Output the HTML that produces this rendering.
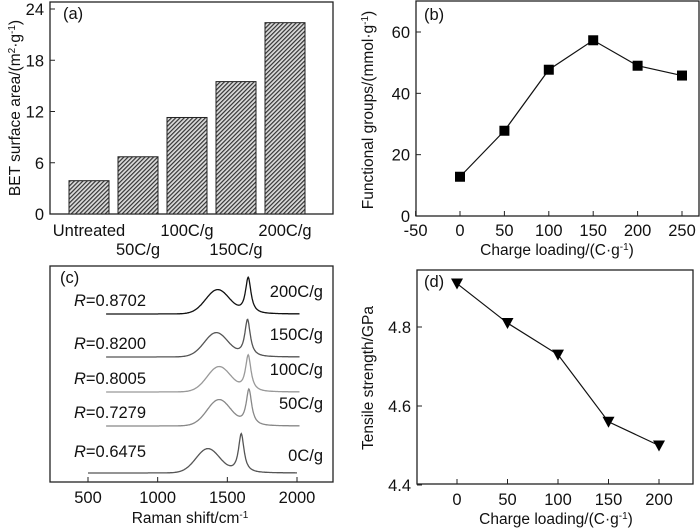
<!DOCTYPE html>
<html><head><meta charset="utf-8"><style>
body{margin:0;background:#fff}
svg{display:block;font-family:"Liberation Sans",Arial,sans-serif}
</style></head><body>
<svg id="c" width="700" height="529" viewBox="0 0 700 529">
<defs><pattern id="hatch" width="3" height="3" patternUnits="userSpaceOnUse" patternTransform="rotate(-45)">
<rect width="3" height="3" fill="#dcdcdc"/><rect width="3" height="1.2" fill="#333"/></pattern></defs>
</svg>
<script>
// Panel (a)
const aCats=["Untreated","50C/g","100C/g","150C/g","200C/g"];
const aVals=[3.9,6.7,11.3,15.5,22.4];
const aTicks=[0,6,12,18,24];
// Panel (b)
const bX=[0,50,100,150,200,250];
const bY=[12.8,27.8,47.7,57.3,49.0,45.8];
const bXTicks=[-50,0,50,100,150,200,250];
const bYTicks=[0,20,40,60];
// Panel (c)
const cLabels=["200C/g","150C/g","100C/g","50C/g","0C/g"];
const cR=["0.8702","0.8200","0.8005","0.7279","0.6475"];
const cOffset=[4,3,2,1,0];
const cDCenter=[1430,1420,1440,1440,1360];
const cDHeight=[24,24,25,26,24];
const cGCenter=[1650,1645,1650,1655,1600];
const cGHeight=[36,37,36,36,39];
const cStart=[630,630,630,630,500];
const cEnd=[2020,2020,2020,2020,2000];
const cXTicks=[500,1000,1500,2000];
// Panel (d)
const dX=[0,50,100,150,200];
const dY=[4.91,4.81,4.73,4.56,4.50];
const dXTicks=[0,50,100,150,200];
const dYTicks=[4.4,4.6,4.8];

const svg=document.getElementById('c');
const NS="http://www.w3.org/2000/svg";
function el(t,a,txt){const e=document.createElementNS(NS,t);for(const k in a)e.setAttribute(k,a[k]);if(txt!==undefined)e.textContent=txt;svg.appendChild(e);return e;}
function lin(d0,d1,r0,r1){return v=>r0+(v-d0)*(r1-r0)/(d1-d0);}
function frame(x0,y0,x1,y1,name){const r=el('rect',{x:x0,y:y0,width:x1-x0,height:y1-y0,fill:'none',stroke:'#222','stroke-width':1.3});
}
function txt(x,y,s,name,opts){const t=el('text',Object.assign({x:x,y:y,'font-size':16.5,fill:'#111','text-anchor':'middle'},opts||{}),s);
return t;}

// ---- (a)
{const x0=50,x1=333,y0=2,y1=214;const Y=lin(0,24,214,9);
frame(x0,y0,x1,y1,'panel-a-frame');
aTicks.forEach(v=>{const y=Y(v);el('line',{x1:x0,x2:x0+5,y1:y,y2:y,stroke:'#222'});txt(x0-6,y+6,String(v),'y-tick-a',{'text-anchor':'end'});});
const bw=40;
aVals.forEach((v,i)=>{const x=69+i*49;const r=el('rect',{x:x,y:Y(v),width:bw,height:Y(0)-Y(v),fill:'url(#hatch)',stroke:'#222','stroke-width':1});

const up=i%2===0;txt(x+bw/2,up?236:255,aCats[i],'x-label-a');});
txt(63,19,'(a)','panel-a-label',{'text-anchor':'start'});
const t=txt(0,0,'','y-axis-title-a',{transform:'translate(20,108) rotate(-90)','font-size':15.5});
t.innerHTML='BET surface area/(m<tspan dy="-5" font-size="10">2</tspan><tspan dy="5">·g</tspan><tspan dy="-5" font-size="10">-1</tspan><tspan dy="5">)</tspan>';}

// ---- (b)
{const x0=416,x1=699,y0=1,y1=216;const X=lin(0,250,460,682),Y=lin(0,60,216,32);
frame(x0,y0,x1,y1,'panel-b-frame');
bYTicks.forEach(v=>{const y=Y(v);el('line',{x1:x0,x2:x0+5,y1:y,y2:y,stroke:'#222'});txt(x0-6,y+6,String(v),'y-tick-b',{'text-anchor':'end'});});
bXTicks.forEach(v=>{const x=X(v);el('line',{x1:x,x2:x,y1:y1,y2:y1-5,stroke:'#222'});txt(x,y1+20,String(v),'x-tick-b');});
const p=el('polyline',{points:bX.map((v,i)=>X(v)+','+Y(bY[i])).join(' '),fill:'none',stroke:'#111','stroke-width':1.2});

bX.forEach((v,i)=>{const r=el('rect',{x:X(v)-5,y:Y(bY[i])-5,width:10,height:10,fill:'#000'});});
txt(424,20,'(b)','panel-b-label',{'text-anchor':'start'});
let t=txt(557,255,'','x-axis-title-b',{'font-size':15.5});t.innerHTML='Charge loading/(C·g<tspan dy="-5" font-size="10">-1</tspan><tspan dy="5">)</tspan>';
t=txt(0,0,'','y-axis-title-b',{transform:'translate(373,110) rotate(-90)','font-size':15.5});t.innerHTML='Functional groups/(mmol·g<tspan dy="-5" font-size="10">-1</tspan><tspan dy="5">)</tspan>';}

// ---- (c)
{const x0=50,x1=333,y0=266,y1=482;const X=lin(500,2000,88,297);
frame(x0,y0,x1,y1,'panel-c-frame');
const base=[473,426,392,357,314];const colors=['#555','#888','#999','#555','#111'];
cXTicks.forEach(v=>{const x=X(v);el('line',{x1:x,x2:x,y1:y1,y2:y1-5,stroke:'#222'});txt(x,y1+21,String(v),'x-tick-c');});
cLabels.forEach((lab,i)=>{const o=cOffset[i];const b=base[o];const pts=[];
for(let s=cStart[i];s<=cEnd[i];s+=4){const d=cDHeight[i]*Math.exp(-Math.pow((s-cDCenter[i])/85,2)/2);
const g=cGHeight[i]/(1+Math.pow((s-cGCenter[i])/24,2));pts.push(X(s).toFixed(1)+','+(b-d-g).toFixed(1));}
const p=el('polyline',{points:pts.join(' '),fill:'none',stroke:colors[o],'stroke-width':1.3});

const ly=b-8-(o===0?8:0);const t=txt(74,ly,'','r-value',{'text-anchor':'start'});t.innerHTML='<tspan font-style="italic">R</tspan>=0'+cR[i].slice(1);
txt(323,b-17+(o===0?5:0),lab,'series-label-c',{'text-anchor':'end'});});
txt(60,283,'(c)','panel-c-label',{'text-anchor':'start'});
const t=txt(190,523,'','x-axis-title-c',{'font-size':15.5});t.innerHTML='Raman shift/cm<tspan dy="-5" font-size="10">-1</tspan>';}

// ---- (d)
{const x0=417,x1=693,y0=270,y1=484;const X=lin(0,200,457,659),Y=lin(4.6,4.8,406,327);
frame(x0,y0,x1,y1,'panel-d-frame');
dYTicks.forEach(v=>{const y=Y(v);el('line',{x1:x0,x2:x0+5,y1:y,y2:y,stroke:'#222'});txt(x0-6,y+6,v.toFixed(1),'y-tick-d',{'text-anchor':'end'});});
dXTicks.forEach(v=>{const x=X(v);el('line',{x1:x,x2:x,y1:y1,y2:y1-5,stroke:'#222'});txt(x,y1+21,String(v),'x-tick-d');});
const p=el('polyline',{points:dX.map((v,i)=>X(v)+','+Y(dY[i])).join(' '),fill:'none',stroke:'#111','stroke-width':1.2});

dX.forEach((v,i)=>{const x=X(v),y=Y(dY[i]);const m=el('polygon',{points:`${x-6},${y-5} ${x+6},${y-5} ${x},${y+6}`,fill:'#000'});
});
txt(424,287,'(d)','panel-d-label',{'text-anchor':'start'});
let t=txt(556,524,'','x-axis-title-d',{'font-size':15.5});t.innerHTML='Charge loading/(C·g<tspan dy="-5" font-size="10">-1</tspan><tspan dy="5">)</tspan>';
t=txt(0,0,'','y-axis-title-d',{transform:'translate(373,378) rotate(-90)','font-size':15.5});t.textContent='Tensile strength/GPa';}
</script>
</body></html>
